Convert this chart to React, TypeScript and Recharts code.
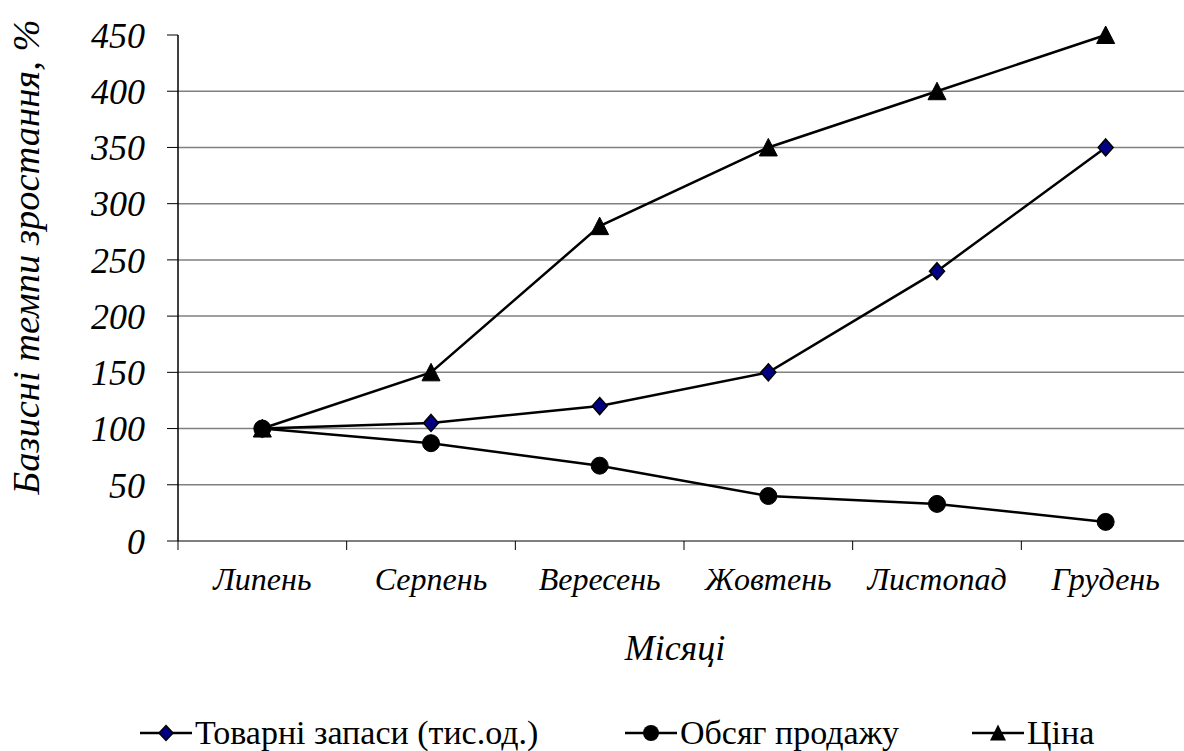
import { LineChart, Line, XAxis, YAxis, CartesianGrid, Label } from 'recharts';

const months = ['Липень', 'Серпень', 'Вересень', 'Жовтень', 'Листопад', 'Грудень'];
const stockValues = [100, 105, 120, 150, 240, 350];
const salesValues = [100, 87, 67, 40, 33, 17];
const priceValues = [100, 150, 280, 350, 400, 450];
const yTicks = [0, 50, 100, 150, 200, 250, 300, 350, 400, 450];
const gridValues = [50, 100, 150, 200, 250, 300, 350, 400];

const seriesNames = {
  stock: 'Товарні запаси (тис.од.)',
  sales: 'Обсяг продажу',
  price: 'Ціна',
};

const data = months.map((month, i) => ({
  month,
  stock: stockValues[i],
  sales: salesValues[i],
  price: priceValues[i],
}));

const FONT = "'Liberation Serif', 'DejaVu Serif', serif";

function DiamondDot(props: any) {
  const { cx, cy } = props;
  if (cx == null || cy == null) return null;
  return (
    <path
      d={`M${cx},${cy - 8.5} L${cx + 7.5},${cy} L${cx},${cy + 8.5} L${cx - 7.5},${cy} Z`}
      fill="#000080"
      stroke="#000"
      strokeWidth={1.5}
    />
  );
}

function TriangleDot(props: any) {
  const { cx, cy } = props;
  if (cx == null || cy == null) return null;
  return (
    <path
      d={`M${cx},${cy - 9} L${cx + 9},${cy + 8.5} L${cx - 9},${cy + 8.5} Z`}
      fill="#000"
      stroke="#000"
      strokeWidth={1}
    />
  );
}

function MonthTick(props: any) {
  const { x, y, payload } = props;
  const half = payload && payload.offset ? payload.offset : 0;
  return (
    <g>
      {half ? <line x1={x - half} y1={y - 9} x2={x - half} y2={y} stroke="#000" strokeWidth={1} /> : null}
      <text
        x={x}
        y={y + 40}
        textAnchor="middle"
        style={{ fontFamily: FONT, fontStyle: 'italic', fontSize: 32 }}
        fill="#000"
      >
        {payload.value}
      </text>
    </g>
  );
}

function LegendIcon({ kind }: { kind: string }) {
  return (
    <svg width={52} height={24} style={{ display: 'block' }}>
      <line x1={0} y1={12} x2={52} y2={12} stroke="#000" strokeWidth={2.5} />
      {kind === 'stock' && (
        <path d="M26,4.5 L33,12 L26,19.5 L19,12 Z" fill="#000080" stroke="#000" strokeWidth={1.5} />
      )}
      {kind === 'sales' && <circle cx={26} cy={12} r={8} fill="#000" />}
      {kind === 'price' && <path d="M26,3.5 L34,19.5 L18,19.5 Z" fill="#000" />}
    </svg>
  );
}

function ChartLegend() {
  const items: [string, string, number][] = [
    ['stock', seriesNames.stock, 140],
    ['sales', seriesNames.sales, 625],
    ['price', seriesNames.price, 972],
  ];
  return (
    <>
      {items.map(([kind, name, left]) => (
        <div
          key={kind}
          style={{
            position: 'absolute',
            left,
            top: 713,
            height: 40,
            display: 'flex',
            alignItems: 'center',
            fontFamily: FONT,
            fontSize: 34,
            color: '#000',
            whiteSpace: 'nowrap',
          }}
        >
          <LegendIcon kind={kind} />
          <span style={{ marginLeft: 3, lineHeight: '40px' }}>{name}</span>
        </div>
      ))}
    </>
  );
}

export default function App() {
  return (
    <div
      style={{
        position: 'absolute',
        left: 0,
        top: 0,
        width: 1184,
        height: 751,
        overflow: 'hidden',
        background: '#fff',
        fontFamily: FONT,
      }}
    >
      <LineChart
        width={1200}
        height={751}
        data={data}
        margin={{ top: 35, right: 10, left: 78, bottom: 150 }}
      >
        <CartesianGrid
          vertical={false}
          horizontalValues={gridValues}
          stroke="#808080"
          strokeWidth={1.5}
        />
        <XAxis
          dataKey="month"
          scale="band"
          height={60}
          tickSize={9}
          tickMargin={0}
          tickLine={false}
          axisLine={{ stroke: '#555', strokeWidth: 1.5 }}
          tick={<MonthTick />}
          interval={0}
        >
          <Label
            content={() => (
              <text
                x={675}
                y={660}
                textAnchor="middle"
                style={{ fontFamily: FONT, fontStyle: 'italic', fontSize: 36 }}
                fill="#000"
              >
                Місяці
              </text>
            )}
          />
        </XAxis>
        <YAxis
          width={100}
          domain={[0, 450]}
          ticks={yTicks}
          interval={0}
          tickSize={11}
          tickMargin={22}
          axisLine={{ stroke: '#000', strokeWidth: 1.5 }}
          tickLine={{ stroke: '#000', strokeWidth: 1 }}
          tick={{ fill: '#000', fontSize: 36, fontStyle: 'italic', fontFamily: FONT }}
        >
          <Label
            content={() => (
              <text
                x={39}
                y={257}
                transform="rotate(-90 39 257)"
                textAnchor="middle"
                style={{ fontFamily: FONT, fontStyle: 'italic', fontSize: 38.5 }}
                fill="#000"
              >
                Базисні темпи зростання, %
              </text>
            )}
          />
        </YAxis>
        <Line
          dataKey="price"
          name={seriesNames.price}
          type="linear"
          stroke="#000"
          strokeWidth={2.5}
          dot={<TriangleDot />}
          activeDot={false}
          isAnimationActive={false}
        />
        <Line
          dataKey="stock"
          name={seriesNames.stock}
          type="linear"
          stroke="#000"
          strokeWidth={2.5}
          dot={<DiamondDot />}
          activeDot={false}
          isAnimationActive={false}
        />
        <Line
          dataKey="sales"
          name={seriesNames.sales}
          type="linear"
          stroke="#000"
          strokeWidth={2.5}
          dot={{ r: 8.5, fill: '#000', stroke: '#000', strokeWidth: 1 }}
          activeDot={false}
          isAnimationActive={false}
        />
      </LineChart>
      <ChartLegend />
    </div>
  );
}
